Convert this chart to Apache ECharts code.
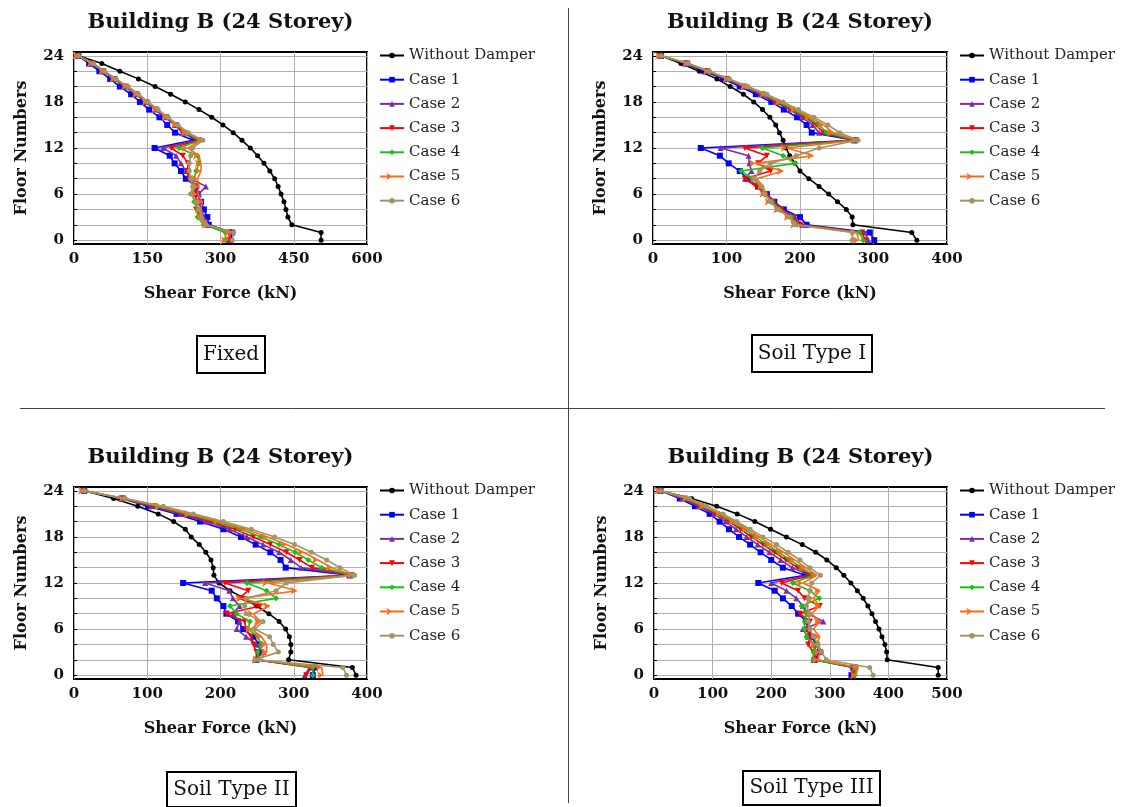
<!DOCTYPE html>
<html>
<head>
<meta charset="utf-8">
<title>Building B (24 Storey) - Shear Force</title>
<script src="https://cdn.jsdelivr.net/npm/echarts@6/dist/echarts.min.js"></script>
<style>
  html, body { margin: 0; padding: 0; background: #fff; }
  #chart { width: 1123px; height: 807px; }
</style>
</head>
<body>
<div id="chart"></div>
<script>
// floor numbers (y values) and tick positions
const floors = [0,1,2,3,4,5,6,7,8,9,10,11,12,13,14,15,16,17,18,19,20,21,22,23,24]
const floorTicks = [0,2,4,6,8,10,12,14,16,18,20,22,24]
const floorLabels = [0,6,12,18,24]

const seriesNames = ['Without Damper','Case 1','Case 2','Case 3','Case 4','Case 5','Case 6']

// shear force (kN) per floor 0..24 -- Fixed
const fixedWithout = [506,506,446,438,434,430,424,418,411,401,389,376,361,344,326,305,282,256,228,198,166,132,94,57,9]
const fixedCases = [
  [320,324,276,273,266,260,253,250,229,219,206,196,165,244,207,191,175,154,135,117,94,74,52,31,9],
  [317,320,273,266,260,256,256,270,239,229,219,209,182,252,222,206,187,166,146,127,104,82,59,36,9],
  [317,317,270,260,250,253,246,250,236,233,233,223,199,256,226,209,189,168,148,128,106,83,60,37,9],
  [310,310,266,253,253,246,243,246,246,250,256,253,215,258,229,210,191,170,150,130,108,85,61,38,9],
  [313,320,273,263,260,263,253,256,253,260,260,256,233,262,231,211,192,171,151,131,109,85,62,39,9],
  [324,327,270,260,256,250,239,243,239,236,236,239,243,264,234,213,193,172,152,132,111,86,63,40,9]
]

// Soil Type I
const soil1Without = [359,352,272,271,263,251,239,226,212,200,193,186,181,177,172,167,159,149,137,123,105,87,63,38,11]
const soil1Cases = [
  [301,295,209,200,178,165,155,143,128,118,103,91,65,274,216,209,196,178,161,140,118,95,70,44,11],
  [293,288,203,193,176,165,155,145,125,134,131,130,92,275,226,217,203,186,166,146,122,99,73,46,11],
  [289,284,200,190,175,163,154,140,125,160,143,155,125,276,232,222,207,189,169,149,124,101,74,47,11],
  [286,281,196,188,172,162,152,147,135,120,193,177,149,277,236,226,210,191,171,151,126,102,75,47,11],
  [280,277,195,186,172,160,153,150,141,177,139,218,182,278,245,232,214,194,174,153,127,103,76,48,11],
  [271,271,193,185,170,160,152,148,138,145,160,195,226,279,254,238,219,198,177,155,129,104,77,48,11]
]

// Soil Type II
const soil2Without = [385,380,293,296,296,294,289,280,266,249,233,213,198,191,190,187,180,171,160,152,136,115,87,54,14]
const soil2Cases = [
  [326,329,249,254,253,245,231,224,208,204,195,188,149,376,289,282,268,248,228,204,172,140,101,65,14],
  [315,322,247,259,249,235,222,226,217,226,217,212,179,378,310,296,280,258,236,212,180,145,105,66,14],
  [317,324,249,249,245,242,235,233,208,254,225,238,206,379,325,308,290,268,245,220,186,150,110,67,14],
  [326,326,251,251,255,251,238,240,222,213,276,263,236,380,338,320,302,280,255,228,193,154,114,68,14],
  [340,338,252,263,263,256,242,254,245,267,229,304,265,381,352,333,313,290,264,235,198,158,118,69,14],
  [372,367,247,279,272,267,247,258,235,233,235,276,290,383,363,345,324,301,274,242,204,163,122,70,14]
]

// Soil Type III
const soil3Without = [485,485,398,397,394,389,384,378,372,365,357,347,336,324,311,295,276,253,226,199,172,142,107,64,11]
const soil3Cases = [
  [337,340,274,283,277,269,263,260,246,235,220,206,178,258,220,200,182,164,145,128,112,95,70,44,11],
  [339,340,272,277,272,263,254,289,263,254,243,226,200,265,236,216,197,177,158,140,122,102,76,48,11],
  [340,343,277,272,263,266,260,266,249,283,257,246,218,268,245,225,206,186,166,148,128,107,80,52,11],
  [343,345,272,272,274,260,257,257,260,252,282,266,237,272,252,232,213,193,173,154,133,111,83,55,11],
  [345,348,280,283,277,283,272,283,269,283,272,283,254,278,259,240,221,200,180,159,137,114,86,58,11],
  [374,368,294,286,280,272,266,263,266,260,263,266,269,284,266,249,229,209,186,164,141,118,90,61,11]
]

const colors = ['#000000','#0000ff','#7a2da6','#ff0000','#17c217','#ff6a16','#a39466']
const symbols = ['circle','rect','triangle','triangle','diamond','arrow','circle']
const rotations = [0,0,0,180,0,-90,0]
const sizes = [5,6,6,6,6,6,5]

const serif = 'DejaVu Serif'

const panels = [
  { label: 'Fixed', without: fixedWithout, cases: fixedCases, xMax: 600, step: 150,
    left: 74, top: 52, width: 293, legendX: 374, box: [197, 336, 68, 37] },
  { label: 'Soil Type I', without: soil1Without, cases: soil1Cases, xMax: 400, step: 100,
    left: 653, top: 52, width: 294, legendX: 954, box: [752, 335, 120, 37] },
  { label: 'Soil Type II', without: soil2Without, cases: soil2Cases, xMax: 400, step: 100,
    left: 74, top: 487, width: 293, legendX: 374, box: [167, 772, 129, 35] },
  { label: 'Soil Type III', without: soil3Without, cases: soil3Cases, xMax: 500, step: 100,
    left: 654, top: 487, width: 293, legendX: 954, box: [743, 771, 137, 34] }
]

const PLOT_H = 192

const chart = echarts.init(document.getElementById('chart'))

const grid = []
const xAxis = []
const yAxis = []
const series = []
const legend = []
const graphic = []

panels.forEach((p, i) => {
  grid.push({
    left: p.left, top: p.top, width: p.width, height: PLOT_H,
    show: true, borderColor: '#000', borderWidth: 2, backgroundColor: 'transparent'
  })
  xAxis.push({
    type: 'value', gridIndex: i, min: 0, max: p.xMax, interval: p.step,
    axisLine: { show: false },
    axisTick: { show: false },
    axisLabel: { fontFamily: serif, fontWeight: 'bold', fontSize: 15, color: '#111', margin: 8 },
    splitLine: { show: true, lineStyle: { color: '#b0b0b0', width: 1 } },
    name: 'Shear Force (kN)', nameLocation: 'middle', nameGap: 42,
    nameTextStyle: { fontFamily: serif, fontWeight: 'bold', fontSize: 16, color: '#111' }
  })
  yAxis.push({
    type: 'value', gridIndex: i, min: -0.5, max: 24.5,
    axisLine: { show: false },
    axisTick: { show: true, inside: true, length: 3, customValues: floorTicks, lineStyle: { color: '#000' } },
    axisLabel: { customValues: floorLabels, fontFamily: serif, fontWeight: 'bold', fontSize: 15, color: '#111', margin: 10 },
    splitLine: { show: true, lineStyle: { color: '#b0b0b0', width: 1 } },
    name: 'Floor Numbers', nameLocation: 'middle', nameGap: 44,
    nameTextStyle: { fontFamily: serif, fontWeight: 'bold', fontSize: 16, color: '#111' }
  })

  const all = [p.without].concat(p.cases)
  all.forEach((vals, k) => {
    series.push({
      type: 'line', name: seriesNames[k], xAxisIndex: i, yAxisIndex: i,
      data: vals.map((v, j) => [v, floors[j]]),
      symbol: symbols[k], symbolSize: sizes[k], symbolRotate: rotations[k],
      lineStyle: { color: colors[k], width: 1.6 },
      itemStyle: { color: colors[k] },
      z: 2 + k
    })
  })

  legend.push({
    orient: 'vertical', left: p.legendX, top: p.top - 9,
    itemWidth: 24, itemHeight: 7, itemGap: 9.2,
    data: seriesNames,
    textStyle: { fontFamily: serif, fontSize: 15, color: '#222', lineHeight: 14 }
  })

  // title over each plot
  graphic.push({
    type: 'text', x: p.left + p.width / 2, y: p.top - 29,
    style: { text: 'Building B (24 Storey)', textAlign: 'center', textVerticalAlign: 'middle',
      font: 'bold 21px "DejaVu Serif"', fill: '#111' }
  })
  // boxed case label
  const b = p.box
  graphic.push({
    type: 'rect', shape: { x: b[0], y: b[1], width: b[2], height: b[3] },
    style: { fill: '#fff', stroke: '#000', lineWidth: 2 }
  })
  graphic.push({
    type: 'text', x: b[0] + b[2] / 2, y: b[1] + b[3] / 2,
    style: { text: p.label, textAlign: 'center', textVerticalAlign: 'middle',
      font: '20px "DejaVu Serif"', fill: '#111' }
  })
})

// divider lines between the four panels
graphic.push({ type: 'line', shape: { x1: 568.5, y1: 8, x2: 568.5, y2: 803 }, style: { stroke: '#444', lineWidth: 1 } })
graphic.push({ type: 'line', shape: { x1: 20, y1: 408.5, x2: 1105, y2: 408.5 }, style: { stroke: '#444', lineWidth: 1 } })

chart.setOption({
  animation: false,
  backgroundColor: '#fff',
  grid, xAxis, yAxis, series, legend, graphic
})
</script>
</body>
</html>
